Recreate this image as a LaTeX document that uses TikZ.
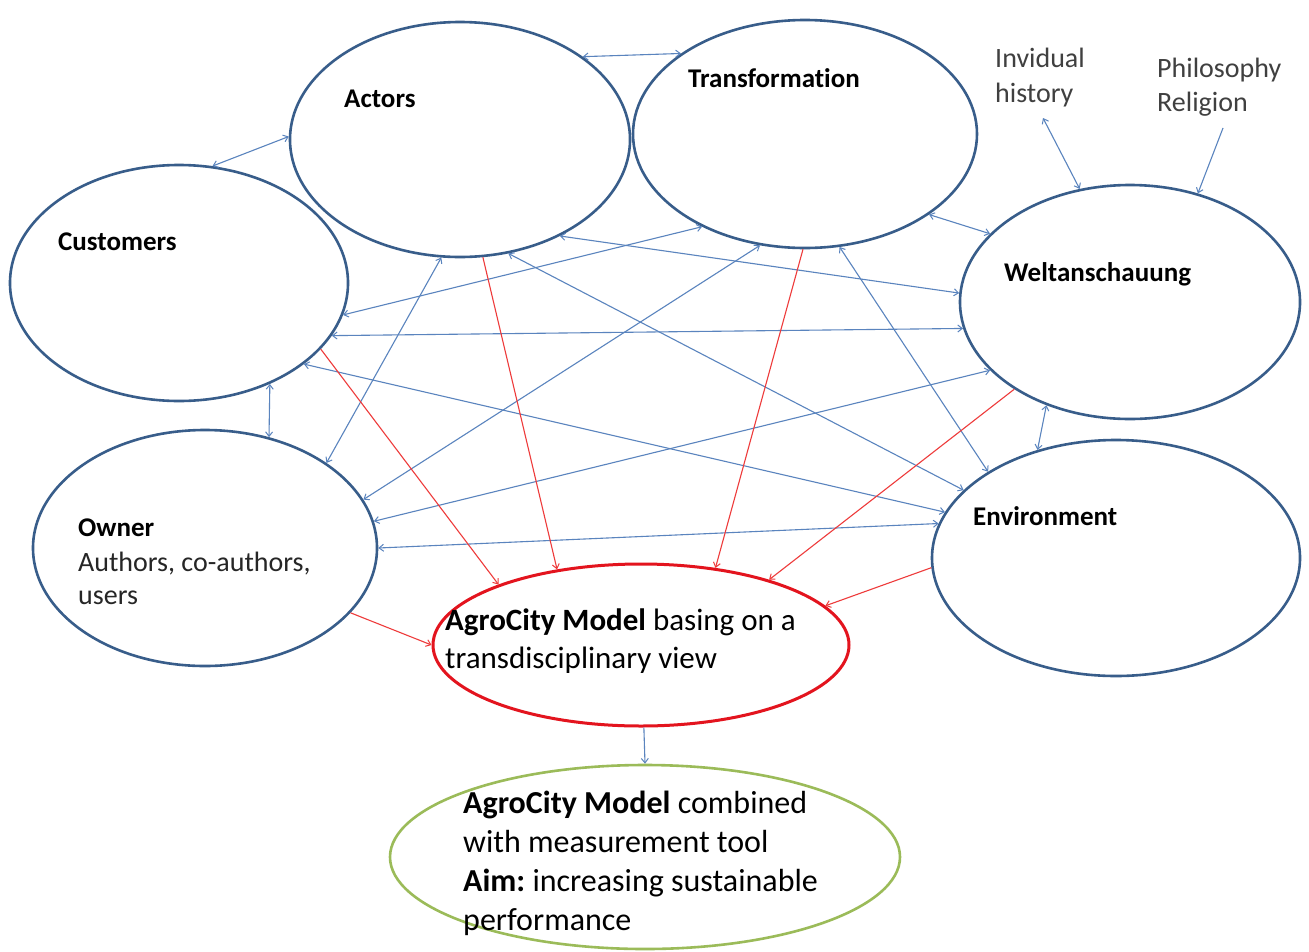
\documentclass[tikz,border=0pt]{standalone}
\usepackage{fontspec}
\setmainfont{Carlito}[Ligatures=NoCommon]
\frenchspacing
\usetikzlibrary{arrows.meta,shapes.geometric}
\definecolor{ellblue}{HTML}{385D8A}
\definecolor{conblue}{HTML}{5A84BE}
\definecolor{conred}{HTML}{EE3B3B}
\definecolor{agrored}{HTML}{E3141E}
\definecolor{agrogreen}{HTML}{9BBB59}
\definecolor{labgray}{HTML}{404040}
\tikzset{
  ell/.style={ellipse, draw=ellblue, line width=2.6pt, fill=white, inner sep=0pt},
  tip/.tip={Straight Barb[length=4.5pt,width=7pt,line width=1pt]},
  bi/.style={draw=conblue, line width=1.1pt, {tip}-{tip}},
  uni/.style={draw=conblue, line width=1.1pt, -{tip}},
  redarrow/.style={draw=conred, line width=1.1pt, -{tip}},
  blab/.style={inner sep=0pt, anchor=base west, font=\fontsize{27}{32}\selectfont\bfseries},
  rlab/.style={inner sep=0pt, anchor=base west, font=\fontsize{28}{34}\selectfont, text=labgray},
  mlab/.style={inner sep=0pt, anchor=base west, font=\fontsize{31}{38}\selectfont},
  glab/.style={inner sep=0pt, anchor=base west, font=\fontsize{32}{39}\selectfont},
}
\begin{document}
\begin{tikzpicture}[x=1pt,y=-1pt]
\useasboundingbox[fill=white] (0,0) rectangle (1309,951);

% ellipses
\node[ell, minimum width=340, minimum height=235] (A) at (460,139.5) {};
\node[ell, minimum width=344, minimum height=228] (T) at (805,134) {};
\node[ell, minimum width=338, minimum height=236] (C) at (179,283) {};
\node[ell, minimum width=340, minimum height=234] (W) at (1130,302) {};
\node[ell, minimum width=344, minimum height=236] (O) at (205,548) {};
\node[ell, minimum width=368, minimum height=236] (E) at (1116,558) {};
\node[ell, draw=agrored, line width=3pt, minimum width=416, minimum height=162] (R) at (641,645) {};
\node[ell, draw=agrogreen, line width=2.6pt, minimum width=510, minimum height=184] (G) at (645,857) {};

% labels
\node[blab] (tA) at (344,107) {Actors};
\node[blab] (tT) at (688,87) {Transformation};
\node[blab] (tC) at (58,250) {Customers};
\node[blab] (tW) at (1004,281) {Weltanschauung};
\node[blab] (tE) at (973,525) {Environment};
\node[blab] (tO) at (78,536) {Owner};
\node[rlab, text=black!85] (tO2) at (78,571) {Authors, co-authors,};
\node[rlab, text=black!85] (tO3) at (78,604) {users};
\node[mlab] (tR1) at (445,630) {\textbf{AgroCity Model} basing on a};
\node[mlab] (tR2) at (445,668) {transdisciplinary view};
\node[glab] (tG1) at (463,813) {\textbf{AgroCity Model} combined};
\node[glab] (tG2) at (463,852) {with measurement tool};
\node[glab] (tG3) at (463,891) {\textbf{Aim:} increasing sustainable};
\node[glab] (tG4) at (463,930) {performance};
\node[rlab] (tI1) at (995,67) {Invidual};
\node[rlab] (tI2) at (995,102) {history};
\node[rlab] (tP1) at (1157,77) {Philosophy};
\node[rlab] (tP2) at (1157,111) {Religion};

\coordinate (ihpt) at (1043,118);
\coordinate (phpt) at (1223,128);

% outer blue connectors
\draw[bi] (C.74.6) -- (A.179.5);
\draw[bi] (A.34) -- (T.147.8);
\draw[bi] (T.-33.2) -- (W.154.1);
\draw[bi] (W.114.4) -- (ihpt);
\draw[uni] (phpt) -- (W.58.3);
\draw[bi] (C.-48.5) -- (O.60.1);
\draw[bi] (W.-129.8) -- (E.126.8);
\draw[uni] (R.-88.5) -- (G.90);

% crossing blue connectors
\draw[bi] (A.-99.6) -- (O.35.6);
\draw[bi] (A.-67.8) -- (E.156.1);
\draw[bi] (A.-44.3) -- (W.177);
\draw[bi] (C.-11.2) -- (T.-138.2);
\draw[bi] (C.-19.1) -- (W.-171.3);
\draw[bi] (C.-33.6) -- (E.165.9);
\draw[bi] (T.-112) -- (O.17.5);
\draw[bi] (T.-73.2) -- (E.146.5);
\draw[bi] (O.9.7) -- (W.-154.9);
\draw[bi] (O.0.3) -- (E.169.2);

% red connectors into the AgroCity model
\draw[redarrow] (C.-25.4) -- (R.157.4);
\draw[redarrow] (A.-79.2) -- (R.138.4);
\draw[redarrow] (T.-91) -- (R.46.1);
\draw[redarrow] (W.-143.1) -- (R.27.8);
\draw[redarrow] (E.-177.9) -- (R.12.3);
\draw[redarrow] (O.-24.1) -- (R.180.5);
\end{tikzpicture}
\end{document}
